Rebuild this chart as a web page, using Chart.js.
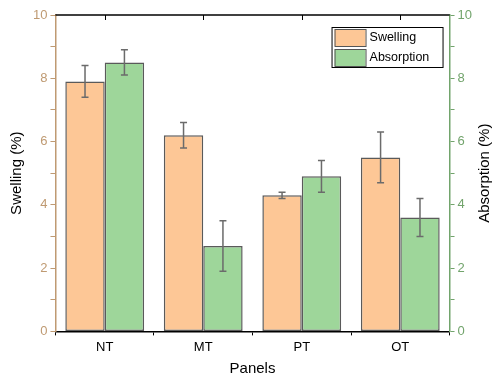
<!DOCTYPE html>
<html>
<head>
<meta charset="utf-8">
<script src="https://cdn.jsdelivr.net/npm/chart.js@4"></script>
<style>
  html, body { margin: 0; padding: 0; background: #fff; }
  #wrap { width: 498px; height: 382px; }
</style>
</head>
<body>
<div id="wrap"><canvas id="myChart" width="498" height="382"></canvas></div>
<script>
  // chart data
  const panels = ['NT', 'MT', 'PT', 'OT'];
  const swelling = [7.9, 6.2, 4.3, 5.5];
  const swellingErr = [0.5, 0.4, 0.1, 0.8];
  const absorption = [8.5, 2.7, 4.9, 3.6];
  const absorptionErr = [0.4, 0.8, 0.5, 0.6];
  const yTicks = [0, 2, 4, 6, 8, 10];

  const tan = '#bf9a72';
  const green = '#72a46c';
  const font = "Arial, 'Liberation Sans', sans-serif";

  // draws error bars, top frame line, right title and the boxed legend
  const extras = {
    id: 'extras',
    afterDatasetsDraw(chart) {
      const ctx = chart.ctx;
      const errs = [swellingErr, absorptionErr];
      ctx.save();
      chart.data.datasets.forEach((ds, i) => {
        const meta = chart.getDatasetMeta(i);
        const scale = chart.scales[ds.yAxisID];
        meta.data.forEach((bar, j) => {
          const hi = scale.getPixelForValue(ds.data[j] + errs[i][j]);
          const lo = scale.getPixelForValue(ds.data[j] - errs[i][j]);
          ctx.strokeStyle = '#6b6b6b';
          ctx.lineWidth = 1.5;
          ctx.beginPath();
          ctx.moveTo(bar.x, hi); ctx.lineTo(bar.x, lo);
          ctx.moveTo(bar.x - 3.5, hi); ctx.lineTo(bar.x + 3.5, hi);
          ctx.moveTo(bar.x - 3.5, lo); ctx.lineTo(bar.x + 3.5, lo);
          ctx.stroke();
        });
      });

      // top frame
      const a = chart.chartArea;
      ctx.strokeStyle = '#000';
      ctx.lineWidth = 1.5;
      ctx.beginPath();
      ctx.moveTo(a.left, a.top); ctx.lineTo(a.right, a.top);
      ctx.stroke();
      // top ticks at category centres
      const xs = chart.scales.x;
      ctx.lineWidth = 1;
      panels.forEach((p, k) => {
        const x = Math.round(xs.getPixelForValue(k)) + 0.5;
        ctx.beginPath(); ctx.moveTo(x, a.top); ctx.lineTo(x, a.top + 5); ctx.stroke();
      });

      // right axis title, reading bottom to top like the left one
      ctx.save();
      ctx.translate(485, (a.top + a.bottom) / 2);
      ctx.rotate(-Math.PI / 2);
      ctx.fillStyle = '#000';
      ctx.font = '15px ' + font;
      ctx.textAlign = 'center';
      ctx.textBaseline = 'middle';
      ctx.fillText('Absorption (%)', 0, 0);
      ctx.restore();

      // legend box
      const lx = a.right - 118, ly = a.top + 12, rowH = 20;
      ctx.fillStyle = '#fff';
      ctx.fillRect(lx, ly, 111, 40);
      ctx.strokeStyle = '#000';
      ctx.lineWidth = 1;
      ctx.strokeRect(lx + 0.5, ly + 0.5, 111, 40);
      ctx.font = '12.5px ' + font;
      ctx.textBaseline = 'middle';
      ctx.textAlign = 'left';
      chart.data.datasets.forEach((ds, i) => {
        const y = ly + 2 + i * rowH;
        ctx.fillStyle = ds.backgroundColor;
        ctx.fillRect(lx + 3, y, 31, 17);
        ctx.strokeStyle = '#555';
        ctx.strokeRect(lx + 3.5, y + 0.5, 31, 17);
        ctx.fillStyle = '#000';
        ctx.fillText(ds.label, lx + 38, y + 9);
      });
      ctx.restore();
    }
  };

  const canvas = document.getElementById('myChart');
  const chart = new Chart(canvas, {
    type: 'bar',
    data: {
      labels: panels,
      datasets: [
        {
          label: 'Swelling',
          data: swelling,
          yAxisID: 'y',
          backgroundColor: '#fdc796',
          borderColor: '#5a5a5a',
          borderWidth: 1.5,
          borderSkipped: false,
          barPercentage: 1,
          categoryPercentage: 0.8
        },
        {
          label: 'Absorption',
          data: absorption,
          yAxisID: 'y1',
          backgroundColor: '#9ed69a',
          borderColor: '#5a5a5a',
          borderWidth: 1.5,
          borderSkipped: false,
          barPercentage: 1,
          categoryPercentage: 0.8
        }
      ]
    },
    options: {
      responsive: false,
      animation: false,
      devicePixelRatio: 1,
      layout: { padding: { top: 15, right: 23, left: 4, bottom: 0 } },
      plugins: {
        legend: { display: false },
        tooltip: { enabled: false }
      },
      scales: {
        x: {
          grid: { display: true, drawOnChartArea: false, offset: true, color: '#000', tickLength: 4 },
          border: { color: '#000', width: 1.5 },
          ticks: { color: '#000', font: { family: font, size: 13 }, padding: 4 },
          title: { display: true, text: 'Panels', color: '#000', font: { family: font, size: 15 }, padding: { top: 1 } }
        },
        y: {
          position: 'left',
          min: 0, max: 10,
          afterBuildTicks: (s) => { s.ticks = [0,1,2,3,4,5,6,7,8,9,10].map(v => ({ value: v })); },
          grid: { drawOnChartArea: false, color: tan, tickLength: 5 },
          border: { color: tan, width: 1.5 },
          ticks: {
            color: tan, font: { family: font, size: 13 }, padding: 3,
            callback: (v) => yTicks.includes(v) ? v : ''
          },
          title: { display: true, text: 'Swelling (%)', color: '#000', font: { family: font, size: 15 }, padding: { bottom: 4 } }
        },
        y1: {
          position: 'right',
          min: 0, max: 10,
          afterBuildTicks: (s) => { s.ticks = [0,1,2,3,4,5,6,7,8,9,10].map(v => ({ value: v })); },
          grid: { drawOnChartArea: false, color: green, tickLength: 5 },
          border: { color: green, width: 1.5 },
          ticks: {
            color: green, font: { family: font, size: 13 }, padding: 3,
            callback: (v) => yTicks.includes(v) ? v : ''
          },
          title: { display: false }
        }
      }
    },
    plugins: [extras]
  });
</script>
</body>
</html>
